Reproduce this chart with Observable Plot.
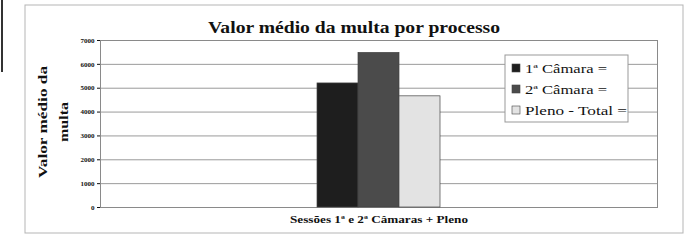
<!DOCTYPE html>
<html>
<head>
<meta charset="utf-8">
<script src="https://cdn.jsdelivr.net/npm/d3@7"></script>
<script src="https://cdn.jsdelivr.net/npm/@observablehq/plot@0.6"></script>
<style>
  html, body { margin: 0; padding: 0; background: #fff; }
  #chart { width: 695px; height: 244px; }
  #chart svg, #chart svg text { font-family: "Liberation Serif", "Times New Roman", serif; }
</style>
</head>
<body>
<div id="chart"></div>
<script>
const title = "Valor médio da multa por processo";
const yTitle = ["Valor médio da", "multa"];
const categories = ["Sessões 1ª e 2ª Câmaras + Pleno"];
const series = ["1ª Câmara =", "2ª Câmara =", "Pleno - Total ="];
const values = [5200, 6480, 4660];
const yTicks = [0, 1000, 2000, 3000, 4000, 5000, 6000, 7000];
const colors = ["#1e1e1e", "#4b4b4b", "#e3e3e3"];

const data = series.map((s, i) => ({cat: categories[0], series: s, value: values[i]}));
const font = "Liberation Serif";

const plot = Plot.plot({
  width: 695,
  height: 244,
  marginLeft: 100,
  marginRight: 38,
  marginTop: 40,
  marginBottom: 37,
  style: "background: #fff; color: #111;",
  fx: {domain: categories, padding: 0, label: null},
  x: {domain: series, paddingInner: 0, paddingOuter: 5.18, axis: null},
  y: {domain: [0, 7000], label: null},
  color: {domain: series, range: colors},
  marks: [
    Plot.gridY(yTicks, {stroke: "#9a9a9a", strokeOpacity: 1}),
    Plot.frame({stroke: "#8a8a8a"}),
    Plot.barY(data, {fx: "cat", x: "series", y: "value", fill: "series", stroke: "#444", strokeWidth: 0.7}),
    Plot.axisY({ticks: yTicks, tickSize: 3, tickPadding: 3, fontSize: 7, fontWeight: "bold", fontFamily: font, tickFormat: d => String(d), label: null}),
    Plot.axisFx({anchor: "bottom", tickSize: 0, tickPadding: 8, fontSize: 11, fontWeight: "bold", fontFamily: font, label: null})
  ]
});

document.getElementById("chart").appendChild(plot);

const svg = d3.select(plot);
// stretch the category label like the reference
svg.selectAll('g[aria-label="fx-axis tick label"] text')
  .attr("textLength", 178).attr("lengthAdjust", "spacingAndGlyphs");

// outer chart frame
svg.insert("rect", ":first-child")
  .attr("x", 25).attr("y", 5).attr("width", 658).attr("height", 228)
  .attr("fill", "none").attr("stroke", "#b5b5b5");
// left cropped artifact
svg.append("rect").attr("x", 1).attr("y", 0).attr("width", 2).attr("height", 72).attr("fill", "#333");

// title
svg.append("text")
  .attr("x", 354).attr("y", 33)
  .attr("text-anchor", "middle")
  .attr("font-family", font).attr("font-weight", "bold").attr("font-size", 17)
  .attr("textLength", 292).attr("lengthAdjust", "spacingAndGlyphs")
  .attr("fill", "#111")
  .text(title);

// y axis title
const ytLens = [112, 40];
yTitle.forEach((t, i) => {
  svg.append("text")
    .attr("transform", `translate(${47 + i * 21},122) rotate(-90)`)
    .attr("text-anchor", "middle")
    .attr("font-family", font).attr("font-weight", "bold").attr("font-size", 12)
    .attr("textLength", ytLens[i]).attr("lengthAdjust", "spacingAndGlyphs")
    .attr("fill", "#111")
    .text(t);
});

// legend
const color = plot.scale("color");
const lgLens = [82, 82, 102];
const lg = svg.append("g").attr("transform", "translate(505,55)");
lg.append("rect").attr("width", 123).attr("height", 67).attr("fill", "#fff").attr("stroke", "#999");
series.forEach((s, i) => {
  const g = lg.append("g").attr("transform", `translate(7,${14 + i * 21})`);
  g.append("rect").attr("x", 0).attr("y", -5).attr("width", 8).attr("height", 8)
    .attr("fill", color.range[i]).attr("stroke", "#444").attr("stroke-width", 0.6);
  g.append("text").attr("x", 13).attr("y", 4)
    .attr("text-anchor", "start")
    .attr("font-family", font).attr("font-size", 13).attr("fill", "#111")
    .attr("textLength", lgLens[i]).attr("lengthAdjust", "spacingAndGlyphs")
    .text(s);
});
</script>
</body>
</html>
